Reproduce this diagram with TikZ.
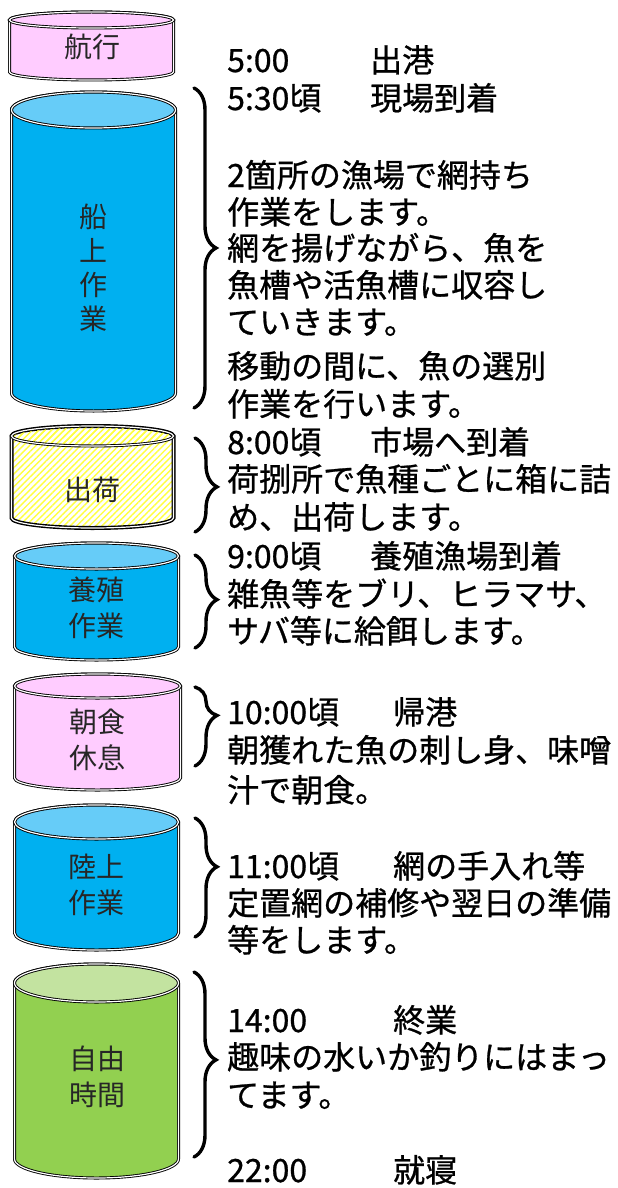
\documentclass[tikz,border=0pt]{standalone}
\usepackage{fontspec}
\setmainfont{Noto Sans CJK JP}
\newfontfamily\heavyjp{Noto Sans CJK JP}[FakeBold=0.8]
\usetikzlibrary{decorations.pathreplacing,patterns.meta}
\usepackage{xcolor}

\definecolor{tankpink}{HTML}{FFCCFF}
\definecolor{tankblue}{HTML}{00B0F0}
\definecolor{tankbluetop}{HTML}{66CCF8}
\definecolor{tankgreen}{HTML}{92D050}
\definecolor{tankgreentop}{HTML}{C3E3A0}

\tikzset{
  rim/.style={draw=black, line width=0.9pt, double=white, double distance=1.2pt},
  hatch/.style={pattern={Lines[angle=45,distance=4.5pt,line width=1.4pt]}, pattern color=yellow!75!white},
  tag/.style={font=\fontsize{28}{36}\selectfont, text=black!85, align=center, inner sep=0pt},
  say/.style={anchor=base west, font=\heavyjp\fontsize{32}{37}\selectfont, inner sep=0pt},
  bracket/.style={decorate, decoration={brace, amplitude=22pt, aspect=#1}, line width=3.4pt, line cap=round},
}

% tank: left, right, top y, bottom y, y radius, body fill, top fill
\newcommand\tank[7]{%
  \draw[rim,#6] (#1,#3) -- (#1,#4)
    arc[start angle=180, end angle=0, x radius={(#2-#1)/2}, y radius=#5]
    -- (#2,#3)
    arc[start angle=0, end angle=-180, x radius={(#2-#1)/2}, y radius=#5] -- cycle;
  \draw[rim,#7] ({(#1+#2)/2},#3) ellipse[x radius={(#2-#1)/2}, y radius=#5];
}
\newcommand\clock[2]{\makebox[#1][l]{#2}}

\begin{document}
\begin{tikzpicture}[x=1pt,y=-1pt]
  \fill[white] (0,0) rectangle (618,1188);

  \tank{9.5}{173.5}{20}{72}{8}{fill=tankpink}{fill=tankpink}
  \tank{11.5}{175.5}{110}{393}{18}{fill=tankblue}{fill=tankbluetop}
  \tank{11.5}{173.5}{436}{518}{10}{hatch}{hatch}
  \tank{14.5}{178.5}{556}{647}{13}{fill=tankblue}{fill=tankbluetop}
  \tank{14.5}{180.5}{686}{778}{12}{fill=tankpink}{fill=tankpink}
  \tank{14.5}{178.5}{822}{933}{17}{fill=tankblue}{fill=tankbluetop}
  \tank{14.5}{178.5}{983}{1159}{19}{fill=tankgreen}{fill=tankgreentop}

  \node[tag] (voyage) at (92,47) {航行};
  \node[tag, font=\fontsize{28}{34}\selectfont] (onboard) at (93,268) {船\\上\\作\\業};
  \node[tag] (ship) at (92,490) {出荷};
  \node[tag] (farm) at (96,608) {養殖\\作業};
  \node[tag] (rest) at (97,740) {朝食\\休息};
  \node[tag] (shore) at (96,885) {陸上\\作業};
  \node[tag] (free) at (97,1077) {自由\\時間};

  \draw[bracket=0.5] (194,88) -- (194,408);
  \draw[bracket=0.52] (195,438) -- (195,532);
  \draw[bracket=0.48] (195,555) -- (195,648);
  \draw[bracket=0.36] (195,687) -- (195,766);
  \draw[bracket=0.41] (195,818) -- (195,937);
  \draw[bracket=0.475] (194,972) -- (194,1157);

  \node[say] (l1) at (227,72) {\clock{143pt}{5:00}出港};
  \node[say] (l2) at (227,110) {\clock{143pt}{5:30頃}現場到着};
  \node[say] (l3) at (227,187) {2箇所の漁場で網持ち};
  \node[say] (l4) at (227,224) {作業をします。};
  \node[say] (l5) at (227,260) {網を揚げながら、魚を};
  \node[say] (l6) at (227,297) {魚槽や活魚槽に収容し};
  \node[say] (l7) at (227,334) {ていきます。};
  \node[say] (l8) at (227,378) {移動の間に、魚の選別};
  \node[say] (l9) at (227,416) {作業を行います。};
  \node[say] (l10) at (227,454) {\clock{143pt}{8:00頃}市場へ到着};
  \node[say] (l11) at (227,491) {荷捌所で魚種ごとに箱に詰};
  \node[say] (l12) at (227,529) {め、出荷します。};
  \node[say] (l13) at (227,568) {\clock{143pt}{9:00頃}養殖漁場到着};
  \node[say] (l14) at (227,606) {雑魚等をブリ、ヒラマサ、};
  \node[say] (l15) at (227,643) {サバ等に給餌します。};
  \node[say] (l16) at (227,724) {\clock{166pt}{10:00頃}帰港};
  \node[say] (l17) at (227,762) {朝獲れた魚の刺し身、味噌};
  \node[say] (l18) at (227,802) {汁で朝食。};
  \node[say] (l19) at (227,878) {\clock{166pt}{11:00頃}網の手入れ等};
  \node[say] (l20) at (227,915) {定置網の補修や翌日の準備};
  \node[say] (l21) at (227,952) {等をします。};
  \node[say] (l22) at (227,1032) {\clock{166pt}{14:00}終業};
  \node[say] (l23) at (227,1069) {趣味の水いか釣りにはまっ};
  \node[say] (l24) at (227,1107) {てます。};
  \node[say] (l25) at (227,1182) {\clock{166pt}{22:00}就寝};
\end{tikzpicture}
\end{document}
